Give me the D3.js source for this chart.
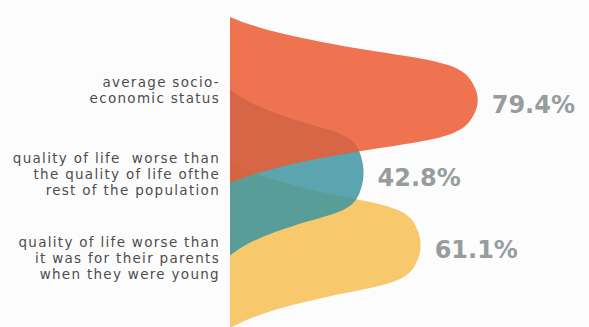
<!DOCTYPE html>
<html>
<head>
<meta charset="utf-8">
<script src="https://cdn.jsdelivr.net/npm/d3@7"></script>
<style>
    body { margin: 0; background: #fcfcfc; }
    svg { display: block; }
</style>
</head>
<body>
<div id="chart"></div>
<script>
// Data
const categories = ['socio', 'population', 'parents'];
const labelLines = [
    ['average socio-', 'economic status'],
    ['quality of life  worse than', 'the quality of life ofthe', 'rest of the population'],
    ['quality of life worse than', 'it was for their parents', 'when they were young']
];
const values = [79.4, 42.8, 61.1];
const valueLabels = ['79.4%', '42.8%', '61.1%'];
const colors = ['#ec5a33', '#3d95a1', '#f7c96c'];

// Bell outline, relative offset from centre -> relative width
const profile = [
    [-1, 0], [-0.9, 0.09], [-0.8, 0.21], [-0.7, 0.37], [-0.6, 0.56], [-0.5, 0.77],
    [-0.4, 0.9], [-0.2, 0.98], [0, 1], [0.2, 0.98], [0.4, 0.9], [0.5, 0.77],
    [0.6, 0.56], [0.7, 0.37], [0.8, 0.21], [0.9, 0.09], [1, 0]
];

document.addEventListener('DOMContentLoaded', function() {
    const width = 589;
    const height = 327;
    const halfHeight = 83;

    const svg = d3.select('#chart').append('svg')
        .attr('width', width)
        .attr('height', height);

    const x = d3.scaleLinear()
        .domain([0, 100])
        .range([230, 542]);

    const yShape = d3.scalePoint()
        .domain(categories)
        .range([100, 245]);

    const yLabel = d3.scalePoint()
        .domain(categories)
        .range([90, 258]);

    const rows = categories.map((c, i) => ({
        key: c, value: values[i], text: valueLabels[i], color: colors[i], lines: labelLines[i]
    }));

    // draw bottom shape first so the orange sits on top
    const shapes = svg.append('g');
    rows.slice().reverse().forEach(d => {
        const area = d3.area()
            .curve(d3.curveMonotoneY)
            .y(p => yShape(d.key) + p[0] * halfHeight)
            .x0(x(0))
            .x1(p => x(p[1] * d.value));
        shapes.append('path')
            .attr('d', area(profile))
            .attr('fill', d.color)
            .attr('fill-opacity', d.key === 'parents' ? 1 : 0.85);
    });

    // value labels
    svg.append('g')
        .selectAll('text')
        .data(rows)
        .enter().append('text')
        .attr('x', d => x(d.value) + 14)
        .attr('y', d => yShape(d.key) + 5)
        .attr('dy', '0.35em')
        .attr('font-family', 'DejaVu Sans')
        .attr('font-weight', 'bold')
        .attr('font-size', 24)
        .attr('fill', '#979d9d')
        .text(d => d.text);

    // category labels
    const lineHeight = 16;
    const labels = svg.append('g')
        .selectAll('text')
        .data(rows)
        .enter().append('text')
        .attr('text-anchor', 'end')
        .attr('font-family', 'DejaVu Sans')
        .attr('font-size', 13.5)
        .attr('letter-spacing', 1.3)
        .style('white-space', 'pre')
        .attr('fill', '#4d4d4d');
    labels.each(function(d) {
        const n = d.lines.length;
        d3.select(this).selectAll('tspan')
            .data(d.lines)
            .enter().append('tspan')
            .attr('x', 220)
            .attr('y', (l, j) => yLabel(d.key) + (j - (n - 1) / 2) * lineHeight)
            .attr('dy', '0.35em')
            .text(l => l);
    });
});
</script>
</body>
</html>
